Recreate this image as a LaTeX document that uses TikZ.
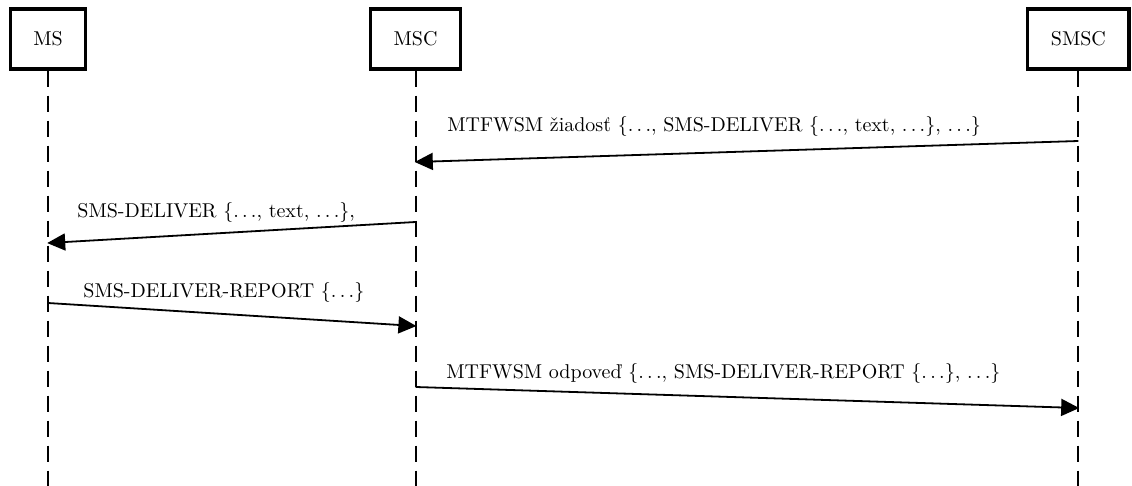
\documentclass[tikz,border=0pt]{standalone}
\usepackage{fontspec}
\usetikzlibrary{arrows.meta}

\tikzset{
  actor/.style={draw, line width=1.6pt, minimum height=30pt, inner xsep=11.5pt, font=\normalsize},
  lifeline/.style={line width=1pt, dash pattern=on 8pt off 4.5pt},
  message/.style={line width=0.9pt, -{Triangle[length=9pt,width=8.5pt]}, shorten >=-0.4pt},
  msglabel/.style={anchor=west, inner sep=0pt}
}

\begin{document}
\begin{tikzpicture}[x=1pt, y=-1pt]
  \useasboundingbox (0,0) rectangle (566,243);

  % participants
  \node[actor] (ms)   at (24,19.5)    {MS};
  \node[actor] (msc)  at (207.8,19.5) {MSC};
  \node[actor] (smsc) at (539.2,19.5) {SMSC};

  % lifelines down to the bottom edge
  \coordinate (bottom) at (0,243);
  \foreach \p in {ms,msc,smsc}
    \draw[lifeline] (\p.south) -- (\p.south |- bottom);

  % message end points on the lifelines
  \coordinate (a1) at (smsc.south |- 0,70.5);
  \coordinate (b1) at (msc.south  |- 0,81);
  \coordinate (a2) at (msc.south  |- 0,111);
  \coordinate (b2) at (ms.south   |- 0,121.5);
  \coordinate (a3) at (ms.south   |- 0,151.5);
  \coordinate (b3) at (msc.south  |- 0,163);
  \coordinate (a4) at (msc.south  |- 0,193.5);
  \coordinate (b4) at (smsc.south |- 0,204);

  % messages
  \draw[message] (a1) -- (b1);
  \draw[message] (a2) -- (b2);
  \draw[message] (a3) -- (b3);
  \draw[message] (a4) -- (b4);

  % message labels
  \node[msglabel] (l1) at (223.5,63.5)
    {MTFWSM žiadosť $\{\ldots$, SMS-DELIVER $\{\ldots$, text, $\ldots\}$, $\ldots\}$};
  \node[msglabel] (l2) at (38.5,106.5)
    {SMS-DELIVER $\{\ldots$, text, $\ldots\}$,};
  \node[msglabel] (l3) at (41.5,146.5)
    {SMS-DELIVER-REPORT $\{\ldots\}$};
  \node[msglabel] (l4) at (223,187)
    {MTFWSM odpoveď $\{\ldots$, SMS-DELIVER-REPORT $\{\ldots\}$, $\ldots\}$};
\end{tikzpicture}
\end{document}
